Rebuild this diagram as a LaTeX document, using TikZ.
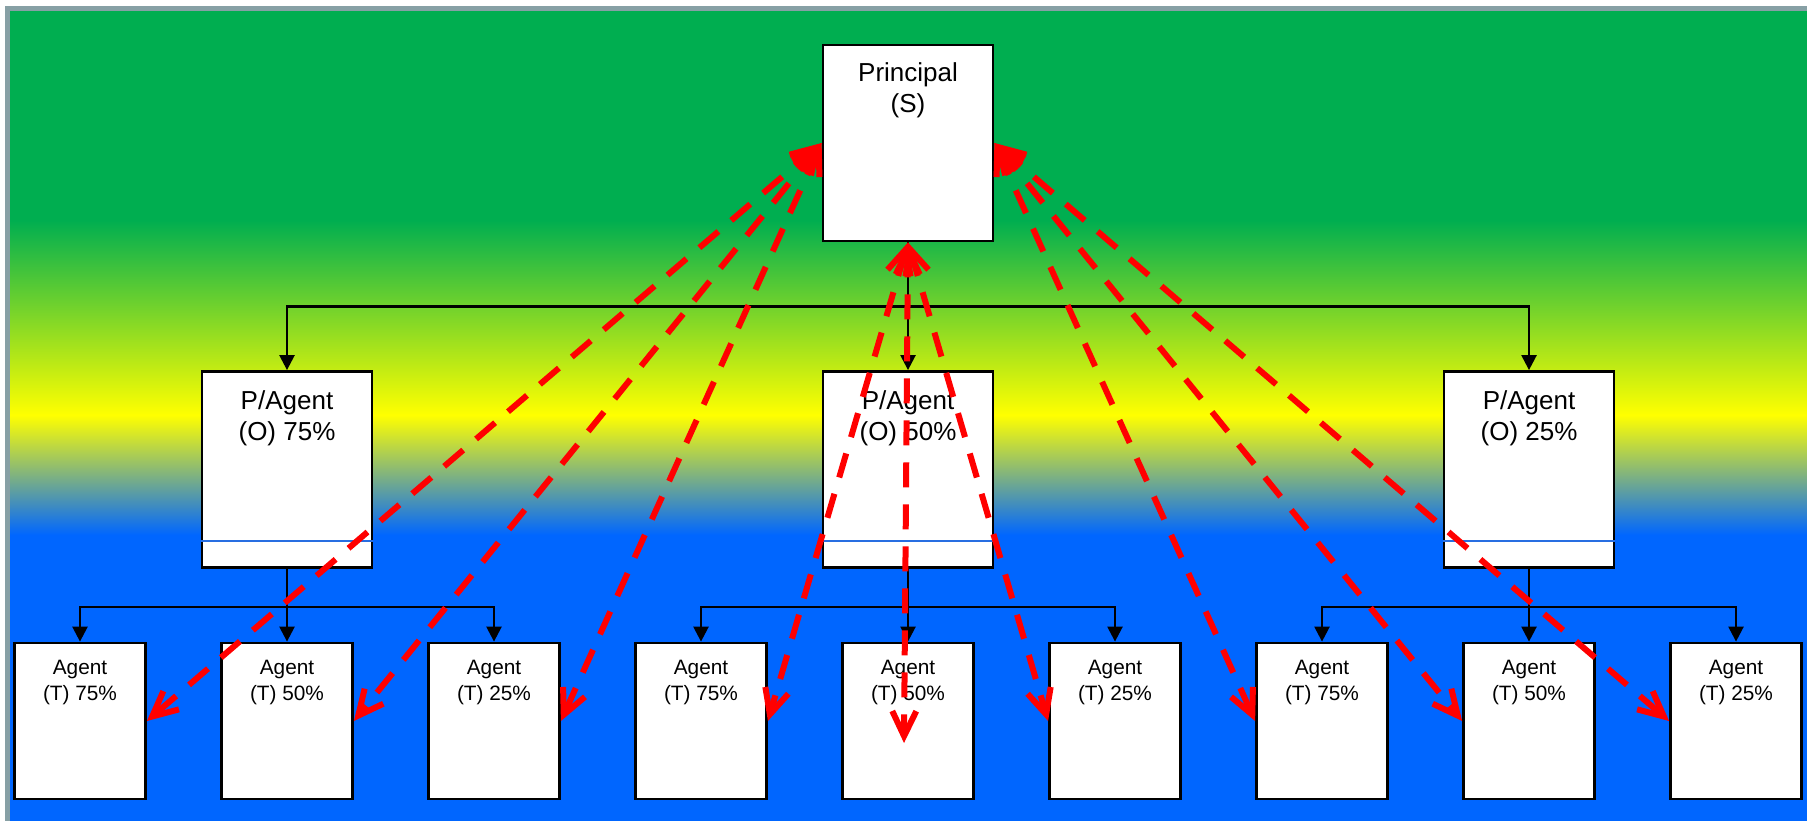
\documentclass[tikz,border=0pt]{standalone}
\usepackage{fontspec}
\setmainfont{Liberation Sans}
\usetikzlibrary{arrows.meta,calc}

\definecolor{bggreen}{RGB}{0,174,80}
\definecolor{bgyellow}{RGB}{255,255,0}
\definecolor{bgblue}{RGB}{0,102,255}
\definecolor{framegray}{RGB}{135,160,165}
\definecolor{rulerblue}{RGB}{40,110,225}

% green -> yellow -> blue backdrop (inner 50bp band maps onto the filled area)
\pgfdeclareverticalshading{bgshade}{100bp}{%
  color(0bp)=(bgblue); color(42.59bp)=(bgblue);
  color(50bp)=(bgyellow);
  color(62.04bp)=(bggreen); color(100bp)=(bggreen)}

\begin{document}
\begin{tikzpicture}[x=0.5pt,y=-0.5pt,
  box/.style={draw=black, fill=white, line width=1.4pt, inner sep=0pt, rectangle},
  bigbox/.style={box, minimum width=85pt, minimum height=98pt},
  agentbox/.style={box, minimum width=65.5pt, minimum height=78pt},
  bigtext/.style={font=\fontsize{13pt}{15.5pt}\selectfont, align=center, anchor=north, inner sep=0pt},
  smalltext/.style={font=\fontsize{10.4pt}{13pt}\selectfont, align=center, anchor=north, inner sep=0pt},
  tree/.style={draw=black, line width=1.2pt},
  treearrow/.style={tree, -{Triangle[length=7.5pt,width=7.5pt]}},
  link/.style={draw=red, line width=3pt, dash pattern=on 12.5pt off 8.5pt,
    {Straight Barb[length=12.5pt,width=12pt]}-{Straight Barb[length=12.5pt,width=12pt]}},
  divider/.style={draw=rulerblue, line width=0.6pt}
]
\useasboundingbox (0,0) rectangle (1807,820);
\clip (0,0) rectangle (1807,820);

% backdrop and frame
\fill[shading=bgshade] (10,10) rectangle (1807,820);
\draw[framegray, line width=2.5pt] (7.5,8) rectangle (1850,870);

% boxes
\node[bigbox] (P)   at (908,143)   {};
\node[bigbox] (PA1) at (287,469.5) {};
\node[bigbox] (PA2) at (908,469.5) {};
\node[bigbox] (PA3) at (1529,469.5) {};

\node[agentbox] (aL1) at (80,721)   {};
\node[agentbox] (aL2) at (287,721)  {};
\node[agentbox] (aL3) at (494,721)  {};
\node[agentbox] (aM1) at (701,721)  {};
\node[agentbox] (aM2) at (908,721)  {};
\node[agentbox] (aM3) at (1115,721) {};
\node[agentbox] (aR1) at (1322,721) {};
\node[agentbox] (aR2) at (1529,721) {};
\node[agentbox] (aR3) at (1736,721) {};

% thin rule near the foot of each P/Agent box
\foreach \b in {PA1,PA2,PA3}
  \draw[divider] ($(\b.south west)+(0,-28)$) -- ($(\b.south east)+(0,-28)$);

% labels
\node[bigtext] (tP)   at ($(P.north)+(0,18.5)$)   {Principal\\(S)};
\node[bigtext] (tPA1) at ($(PA1.north)+(0,20.5)$) {P/Agent\\(O) 75\%};
\node[bigtext] (tPA2) at ($(PA2.north)+(0,20.5)$) {P/Agent\\(O) 50\%};
\node[bigtext] (tPA3) at ($(PA3.north)+(0,20.5)$) {P/Agent\\(O) 25\%};

\node[smalltext] (taL1) at ($(aL1.north)+(0,18)$) {Agent\\(T) 75\%};
\node[smalltext] (taL2) at ($(aL2.north)+(0,18)$) {Agent\\(T) 50\%};
\node[smalltext] (taL3) at ($(aL3.north)+(0,18)$) {Agent\\(T) 25\%};
\node[smalltext] (taM1) at ($(aM1.north)+(0,18)$) {Agent\\(T) 75\%};
\node[smalltext] (taM2) at ($(aM2.north)+(0,18)$) {Agent\\(T) 50\%};
\node[smalltext] (taM3) at ($(aM3.north)+(0,18)$) {Agent\\(T) 25\%};
\node[smalltext] (taR1) at ($(aR1.north)+(0,18)$) {Agent\\(T) 75\%};
\node[smalltext] (taR2) at ($(aR2.north)+(0,18)$) {Agent\\(T) 50\%};
\node[smalltext] (taR3) at ($(aR3.north)+(0,18)$) {Agent\\(T) 25\%};

% organisation tree
\coordinate (busO) at ($(P.south)+(0,64)$);
\draw[tree] (P.south) -- (busO);
\draw[treearrow] (busO) -| (PA1.north);
\draw[treearrow] (busO) -- (PA2.north);
\draw[treearrow] (busO) -| (PA3.north);

\foreach \g/\a/\b/\c in {PA1/aL1/aL2/aL3, PA2/aM1/aM2/aM3, PA3/aR1/aR2/aR3}{
  \coordinate (bus\g) at ($(\g.south)+(0,38)$);
  \draw[tree] (\g.south) -- (bus\g);
  \draw[treearrow] (bus\g) -| (\a.north);
  \draw[treearrow] (bus\g) -- (\b.north);
  \draw[treearrow] (bus\g) -| (\c.north);
}

% direct links between the principal and every agent
\coordinate (aM2in) at ($(aM2.center)+(-4,22)$);
\draw[link] (P.west) -- (aL1.east);
\draw[link] (P.west) -- (aL2.east);
\draw[link] (P.west) -- (aL3.east);
\draw[link] (P.south) -- (aM1.east);
\draw[link] (P.south) -- (aM2in);
\draw[link] (P.south) -- (aM3.west);
\draw[link] (P.east) -- (aR1.west);
\draw[link] (P.east) -- (aR2.west);
\draw[link] (P.east) -- (aR3.west);
\end{tikzpicture}
\end{document}
